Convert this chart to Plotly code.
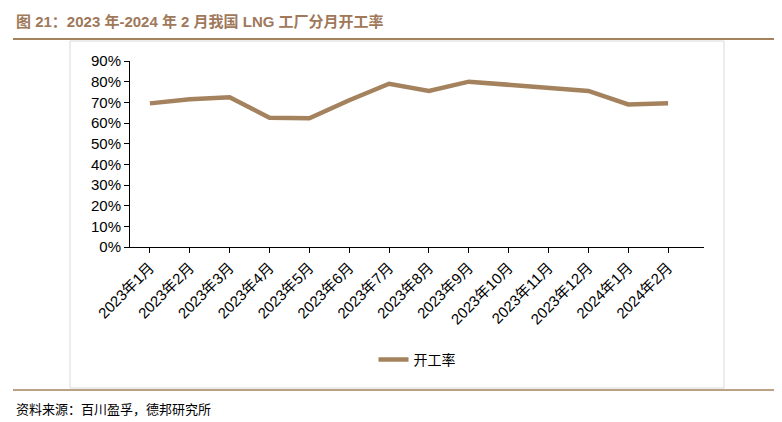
import plotly.graph_objects as go

months = ["2023年1月", "2023年2月", "2023年3月", "2023年4月", "2023年5月", "2023年6月",
          "2023年7月", "2023年8月", "2023年9月", "2023年10月", "2023年11月", "2023年12月",
          "2024年1月", "2024年2月"]
rate = [69.5, 71.5, 72.5, 62.5, 62.3, 71.0, 79.0, 75.5, 80.0, 78.5, 76.8, 75.5, 69.0, 69.5]
yticks = [0, 10, 20, 30, 40, 50, 60, 70, 80, 90]

W, H = 782, 422
font = "Liberation Sans, Noto Sans CJK SC"
brown = "#A5825E"

fig = go.Figure()
fig.add_trace(go.Scatter(x=months, y=rate, mode="lines", name="开工率",
                         line=dict(color=brown, width=4.5)))

# plot area in pixels: x 122..696, y 53..239
fig.update_layout(
    width=W, height=H,
    margin=dict(l=122, r=W - 696, t=53, b=H - 239, autoexpand=False),
    paper_bgcolor="white", plot_bgcolor="white",
    font=dict(family=font, size=15, color="black"),
    showlegend=True,
    legend=dict(orientation="h", x=0.5, xanchor="center", y=(239 - 352) / 186,
                yanchor="middle", font=dict(size=14)),
    xaxis=dict(type="category", showline=True, linecolor="black", linewidth=1,
               ticks="outside", ticklen=5, tickcolor="black", tickangle=-45,
               showgrid=False, range=[-0.5, 13.9], automargin=False,
               tickfont=dict(size=15)),
    yaxis=dict(range=[0, 90], tickvals=yticks, ticktext=[f"{v}%" for v in yticks],
               showline=True, linecolor="black", linewidth=1, ticks="outside",
               ticklen=5, tickcolor="black", showgrid=False, zeroline=False,
               automargin=False, tickfont=dict(size=15)),
)

def px(x0, y0, x1, y1, **kw):
    fig.add_shape(type="line", xref="paper", yref="paper",
                  x0=(x0 - 122) / 574, x1=(x1 - 122) / 574,
                  y0=(239 - y0) / 186, y1=(239 - y1) / 186, **kw)

# title underline, bottom line
px(5, 31, 778, 31, line=dict(color=brown, width=2))
px(5, 382, 778, 382, line=dict(color=brown, width=1.5))
# chart frame
fig.add_shape(type="rect", xref="paper", yref="paper",
              x0=(62 - 122) / 574, x1=(716 - 122) / 574,
              y0=(239 - 380) / 186, y1=(239 - 33) / 186,
              line=dict(color="#d9d9d9", width=1))

fig.add_annotation(xref="paper", yref="paper", x=(6 - 122) / 574, y=(239 - 14) / 186,
                   xanchor="left", yanchor="middle", showarrow=False,
                   text="<b>图 21：2023 年-2024 年 2 月我国 LNG 工厂分月开工率</b>",
                   font=dict(size=15, color="#A0785A"))
fig.add_annotation(xref="paper", yref="paper", x=(6 - 122) / 574, y=(239 - 401) / 186,
                   xanchor="left", yanchor="middle", showarrow=False,
                   text="资料来源：百川盈孚，德邦研究所",
                   font=dict(size=13, color="black"))

fig.write_html("out.html")
